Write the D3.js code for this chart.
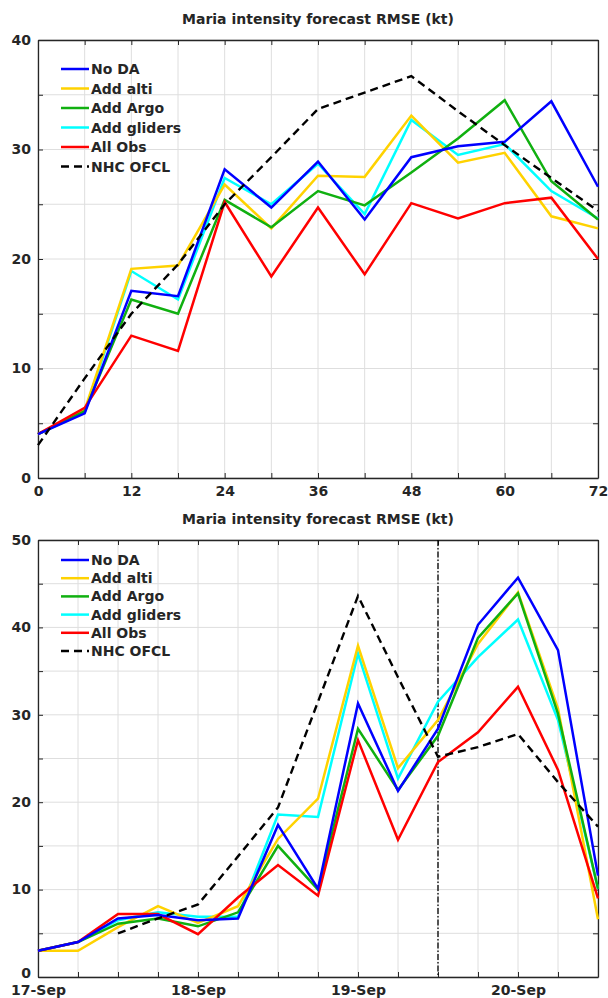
<!DOCTYPE html>
<html>
<head>
<meta charset="utf-8">
<script src="https://cdn.jsdelivr.net/npm/d3@7"></script>
<style>
  html, body { margin: 0; padding: 0; background: #fff; }
  svg { display: block; }
  text { font-family: "DejaVu Sans", sans-serif; font-weight: bold; fill: #262626; }
</style>
</head>
<body>
<svg id="fig" width="608" height="998"></svg>
<script>
// ---- Panel 1: RMSE vs forecast lead time (h) ----
const leadHours = [0, 6, 12, 18, 24, 30, 36, 42, 48, 54, 60, 66, 72];
const leadNoDA     = [4.0, 5.9, 17.1, 16.6, 28.2, 24.7, 28.9, 23.6, 29.3, 30.3, 30.7, 34.4, 26.6];
const leadAlti     = [4.0, 6.2, 19.1, 19.4, 26.8, 22.8, 27.6, 27.5, 33.1, 28.8, 29.7, 23.9, 22.8];
const leadArgo     = [4.0, 6.1, 16.3, 15.0, 25.4, 22.9, 26.2, 24.9, 27.9, 31.0, 34.5, 27.1, 23.6];
const leadGliders  = [4.0, 6.0, 18.9, 16.3, 27.4, 25.0, 28.7, 24.1, 32.7, 29.5, 30.5, 26.2, 23.7];
const leadAllObs   = [4.0, 6.4, 13.0, 11.6, 25.2, 18.4, 24.7, 18.6, 25.1, 23.7, 25.1, 25.6, 20.0];
const leadNHC      = [3.0, 9.1, 15.0, 19.5, 25.0, 29.3, 33.7, 35.2, 36.7, 33.5, 30.4, 27.4, 24.4];
const leadTickLabels = [0, 12, 24, 36, 48, 60, 72];

// ---- Panel 2: RMSE vs forecast initial time (6-hourly, UTC) ----
const initTimes = ["2017-09-17T00:00Z", "2017-09-17T06:00Z", "2017-09-17T12:00Z", "2017-09-17T18:00Z",
                   "2017-09-18T00:00Z", "2017-09-18T06:00Z", "2017-09-18T12:00Z", "2017-09-18T18:00Z",
                   "2017-09-19T00:00Z", "2017-09-19T06:00Z", "2017-09-19T12:00Z", "2017-09-19T18:00Z",
                   "2017-09-20T00:00Z", "2017-09-20T06:00Z", "2017-09-20T12:00Z"];
const initNoDA    = [3.0, 4.0, 6.7, 7.1, 6.5, 6.7, 17.4, 10.1, 31.3, 21.3, 28.4, 40.3, 45.7, 37.4, 11.6];
const initAlti    = [3.0, 3.0, 5.7, 8.1, 6.2, 8.1, 15.8, 20.4, 37.9, 23.9, 29.4, 38.1, 44.0, 30.7, 6.6];
const initArgo    = [3.0, 4.0, 6.1, 6.7, 5.8, 7.4, 15.0, 10.0, 28.4, 21.4, 27.6, 38.8, 43.9, 30.1, 10.1];
const initGliders = [3.0, 4.0, 6.5, 7.4, 6.9, 6.9, 18.6, 18.3, 37.0, 22.7, 31.5, 36.6, 40.9, 29.4, 10.1];
const initAllObs  = [3.0, 4.0, 7.2, 7.2, 4.9, 9.1, 12.8, 9.3, 27.1, 15.7, 24.6, 28.0, 33.2, 23.7, 9.0];
const initNHC     = [null, null, 5.0, 6.7, 8.3, 13.8, 19.4, 31.5, 43.6, 34.3, 25.2, 26.3, 27.8, 22.3, 17.2];
const dividerTime = "2017-09-19T12:00Z";

const seriesNames  = ["No DA", "Add alti", "Add Argo", "Add gliders", "All Obs", "NHC OFCL"];
const seriesColors = ["#0000ff", "#ffd200", "#10b010", "#00ffff", "#ff0000", "#000000"];
const drawOrder    = [3, 1, 2, 4, 0, 5];

const svg = d3.select("#fig");
const gridColor = "#dedede";
const axisColor = "#262626";

function panel(opts) {
  const { x, y, series, xs, title, legendTop, legendStep, xTickVals, xLabelVals, xFmt, yMax, zeroLift } = opts;
  const [x0, x1] = x.range();
  const [yb, yt] = y.range();
  const g = svg.append("g");

  // grid
  const yGrid = d3.range(0, yMax + 0.1, 5);
  g.append("g").selectAll("line").data(yGrid).join("line")
    .attr("x1", x0).attr("x2", x1)
    .attr("y1", d => y(d)).attr("y2", d => y(d))
    .attr("stroke", gridColor).attr("stroke-width", 1);
  g.append("g").selectAll("line").data(xTickVals).join("line")
    .attr("x1", d => x(d)).attr("x2", d => x(d))
    .attr("y1", yt).attr("y2", yb)
    .attr("stroke", gridColor).attr("stroke-width", 1);

  // axes with inward ticks on all four sides
  const ax = (gen, tx, ty) => g.append("g").attr("transform", `translate(${tx},${ty})`).call(gen);
  const bottom = ax(d3.axisBottom(x).tickValues(xTickVals).tickSizeInner(-5).tickSizeOuter(0)
      .tickFormat(d => xLabelVals.some(v => +v === +d) ? xFmt(d) : ""), 0, yb);
  const top = ax(d3.axisTop(x).tickValues(xTickVals).tickSizeInner(-5).tickSizeOuter(0).tickFormat(""), 0, yt);
  const left = ax(d3.axisLeft(y).tickValues(yGrid).tickSizeInner(-5).tickSizeOuter(0)
      .tickFormat(d => d % 10 === 0 ? d : ""), x0, 0);
  const right = ax(d3.axisRight(y).tickValues(yGrid).tickSizeInner(-5).tickSizeOuter(0).tickFormat(""), x1, 0);
  [bottom, top, left, right].forEach(a => {
    a.select(".domain").attr("stroke", axisColor).attr("stroke-width", 1.3);
    a.selectAll(".tick line").attr("stroke", axisColor).attr("stroke-width", 1);
    a.selectAll("text").attr("font-size", 14).attr("font-family", "DejaVu Sans")
      .attr("font-weight", "bold").attr("fill", axisColor);
  });
  bottom.selectAll("text").attr("dy", null).attr("y", 18);
  left.selectAll("text").attr("x", -7).attr("dy", "0.3em")
    .attr("y", d => d === 0 ? -zeroLift : 0);

  // title
  g.append("text").attr("x", (x0 + x1) / 2).attr("y", yt - 16)
    .attr("text-anchor", "middle").attr("font-size", 14).text(title);

  if (opts.extra) opts.extra(g);

  // series lines
  const line = d3.line().defined(d => d[1] != null).x(d => x(d[0])).y(d => y(d[1]));
  drawOrder.forEach(i => {
    const pts = xs.map((t, k) => [t, series[i][k]]);
    g.append("path").datum(pts).attr("d", line)
      .attr("fill", "none").attr("stroke", seriesColors[i])
      .attr("stroke-width", i === 5 ? 2.4 : 2.5)
      .attr("stroke-linejoin", "miter")
      .attr("stroke-dasharray", i === 5 ? "8,5" : null);
  });

  // legend
  const lg = g.append("g");
  seriesNames.forEach((name, i) => {
    const ly = legendTop + i * legendStep;
    lg.append("line").attr("x1", 61).attr("x2", 89).attr("y1", ly).attr("y2", ly)
      .attr("stroke", seriesColors[i]).attr("stroke-width", 2.5)
      .attr("stroke-dasharray", i === 5 ? "8,5" : null);
    lg.append("text").attr("x", 91).attr("y", ly).attr("dy", "0.36em")
      .attr("font-size", 14).text(name);
  });
}

// Panel 1
const xLead = d3.scaleLinear().domain([0, 72]).range([38, 598]);
const yLead = d3.scaleLinear().domain([0, 40]).range([478, 40]);
panel({
  x: xLead, y: yLead, xs: leadHours, yMax: 40, zeroLift: 0,
  series: [leadNoDA, leadAlti, leadArgo, leadGliders, leadAllObs, leadNHC],
  title: "Maria intensity forecast RMSE (kt)",
  legendTop: 69, legendStep: 19.5,
  xTickVals: leadHours, xLabelVals: leadTickLabels, xFmt: d => d
});

// Panel 2
const parseT = d3.isoParse;
const times = initTimes.map(parseT);
const xInit = d3.scaleUtc().domain([times[0], times[times.length - 1]]).range([38, 598]);
const yInit = d3.scaleLinear().domain([0, 50]).range([977, 540]);
const dayTicks = times.filter(t => t.getUTCHours() === 0);
panel({
  x: xInit, y: yInit, xs: times, yMax: 50, zeroLift: 4,
  series: [initNoDA, initAlti, initArgo, initGliders, initAllObs, initNHC],
  title: "Maria intensity forecast RMSE (kt)",
  legendTop: 560, legendStep: 18.2,
  xTickVals: times, xLabelVals: dayTicks, xFmt: d3.utcFormat("%d-%b"),
  extra: g => {
    const xd = xInit(parseT(dividerTime));
    g.append("line").attr("x1", xd).attr("x2", xd).attr("y1", 540).attr("y2", 977)
      .attr("stroke", "#000").attr("stroke-width", 1.3).attr("stroke-dasharray", "6,2,1.5,2");
  }
});
</script>
</body>
</html>
